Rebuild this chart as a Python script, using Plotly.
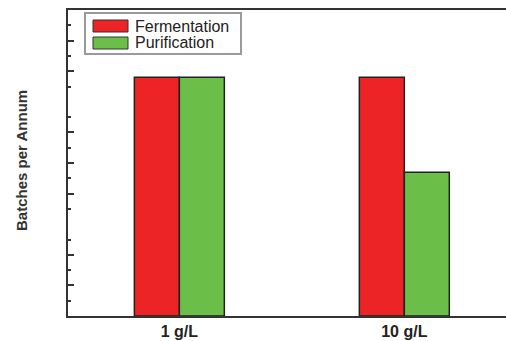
import plotly.graph_objects as go

# Data
categories = ["1 g/L", "10 g/L"]
series_names = ["Fermentation", "Purification"]
fermentation = [78, 78]
purification = [78, 47]
series_colors = ["#ED2426", "#6BBE47"]

major_ticks = [10, 20, 40, 50, 60, 80, 90]
minor_ticks = [5, 15, 25, 35, 45, 55, 65, 75, 85, 95]

W, H = 506, 341
L, R, T, B = 68, 0, 10, 25
pw, ph = W - L - R, H - T - B


def px_x(x):
    return (x - L) / pw


def px_y(y):
    return (H - B - y) / ph


fig = go.Figure()
for name, vals, col in zip(series_names, [fermentation, purification], series_colors):
    fig.add_trace(go.Bar(
        x=categories, y=vals, name=name,
        marker=dict(color=col, line=dict(color="#222222", width=1.5)),
        showlegend=False,
    ))

# Legend box drawn by hand so the swatches keep their wide shape
shapes = [dict(type="rect", xref="paper", yref="paper",
               x0=px_x(85), x1=px_x(241), y0=px_y(13), y1=px_y(54),
               line=dict(color="#9a9a9a", width=2), fillcolor="white")]
annotations = []
rows = [(20, 32), (37, 49)]
for (y0, y1), name, col in zip(rows, series_names, series_colors):
    shapes.append(dict(type="rect", xref="paper", yref="paper",
                       x0=px_x(93), x1=px_x(128), y0=px_y(y0), y1=px_y(y1),
                       line=dict(color="#333333", width=1), fillcolor=col))
    annotations.append(dict(xref="paper", yref="paper",
                            x=px_x(133), y=px_y((y0 + y1) / 2),
                            xanchor="left", yanchor="middle", showarrow=False,
                            text=name,
                            font=dict(family="Liberation Sans, Arial", size=16, color="#222222")))

annotations.append(dict(xref="paper", yref="paper", x=px_x(21), y=px_y(161),
                        xanchor="center", yanchor="middle", showarrow=False,
                        textangle=-90, text="<b>Batches per Annum</b>",
                        font=dict(family="Liberation Sans, Arial", size=15, color="#333333")))

fig.update_layout(
    width=W, height=H,
    margin=dict(l=L, r=R, t=T, b=B, pad=0),
    paper_bgcolor="white", plot_bgcolor="white",
    barmode="group", bargap=0.6, bargroupgap=0,
    shapes=shapes, annotations=annotations,
    xaxis=dict(
        type="category", range=[-0.495, 1.452],
        showline=True, linecolor="#333333", linewidth=2, mirror=True,
        ticks="", showgrid=False, zeroline=False,
        tickfont=dict(family="Liberation Sans, Arial", size=16, color="#222222"),
        tickprefix="<b>", ticksuffix="</b>",
    ),
    yaxis=dict(
        range=[0, 100], showline=True, linecolor="#333333", linewidth=2,
        showgrid=False, zeroline=False, showticklabels=False,
        tickmode="array", tickvals=major_ticks,
        ticks="inside", ticklen=6, tickwidth=1.5, tickcolor="#333333",
        minor=dict(tickmode="array", tickvals=minor_ticks, ticks="inside",
                   ticklen=3, tickwidth=1.5, tickcolor="#333333", showgrid=False),
    ),
)

fig.write_html("out.html")
